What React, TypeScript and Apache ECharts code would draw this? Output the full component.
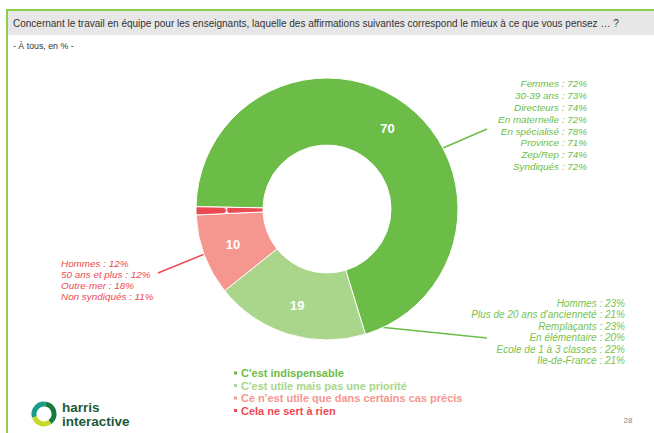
import React, { useEffect, useRef } from "react";
import * as echarts from "echarts";

const categories = [
  "C'est indispensable",
  "C'est utile mais pas une priorité",
  "Ce n'est utile que dans certains cas précis",
  "Cela ne sert à rien",
];
const values = [70, 19, 10, 1];
const colors = ["#6cbd48", "#a9d68b", "#f5978e", "#ec4a53"];

const calloutIndispensable = [
  "Femmes : 72%",
  "30-39 ans : 73%",
  "Directeurs : 74%",
  "En maternelle : 72%",
  "En spécialisé : 78%",
  "Province : 71%",
  "Zep/Rep : 74%",
  "Syndiqués : 72%",
];
const calloutUtile = [
  "Hommes : 23%",
  "Plus de 20 ans d'ancienneté : 21%",
  "Remplaçants : 23%",
  "En élémentaire : 20%",
  "Ecole de 1 à 3 classes : 22%",
  "Ile-de-France : 21%",
];
const calloutCertains = [
  "Hommes : 12%",
  "50 ans et plus : 12%",
  "Outre-mer : 18%",
  "Non syndiqués : 11%",
];

const titleText =
  "Concernant le travail en équipe pour les enseignants, laquelle des affirmations suivantes correspond le mieux à ce que vous pensez … ?";
const subtitleText = "- À tous, en % -";

export default function App() {
  const ref = useRef<HTMLDivElement>(null);
  useEffect(() => {
    if (!ref.current) return;
    const chart = echarts.init(ref.current, null, { renderer: "svg" });
    const font = "'Liberation Sans', Arial, sans-serif";
    chart.setOption({
      animation: false,
      backgroundColor: "#ffffff",
      legend: {
        orient: "vertical",
        left: 232,
        top: 367.5,
        padding: 0,
        itemWidth: 5,
        itemHeight: 5,
        itemGap: 1.5,
        icon: "rect",
        selectedMode: false,
        textStyle: { fontFamily: font, fontSize: 11, fontWeight: "bold", lineHeight: 11, padding: [0, 0, 0, -2] },
        data: categories.map((c, i) => ({
          name: c,
          itemStyle: { color: colors[i] },
          textStyle: { color: colors[i] },
        })),
      },
      series: [
        {
          type: "pie",
          center: [327, 209],
          radius: [64, 131],
          startAngle: 179,
          clockwise: true,
          avoidLabelOverlap: false,
          itemStyle: { borderColor: "#ffffff", borderWidth: 1 },
          label: {
            show: true,
            position: "inside",
            color: "#ffffff",
            fontFamily: font,
            fontWeight: "bold",
            fontSize: 13,
            formatter: "{c}",
          },
          labelLine: { show: false },
          data: categories.map((c, i) => ({
            name: c,
            value: values[i],
            itemStyle: { color: colors[i] },
            label: i === 3 ? { fontSize: 8 } : {},
          })),
        },
      ],
      graphic: [
        { type: "rect", shape: { x: 6, y: 9, width: 648, height: 2 }, style: { fill: "#8ccf4c" } },
        { type: "rect", shape: { x: 6, y: 9, width: 2, height: 424 }, style: { fill: "#8ccf4c" } },
        { type: "rect", shape: { x: 8, y: 11, width: 646, height: 24 }, style: { fill: "#e7e7e7" } },
        {
          type: "text",
          x: 13,
          y: 23,
          style: { text: titleText, font: `10px ${font}`, fill: "#333333", verticalAlign: "middle" },
        },
        {
          type: "text",
          x: 13,
          y: 46,
          style: { text: subtitleText, font: `8.8px ${font}`, fill: "#333333", verticalAlign: "middle" },
        },
        // callout lines
        { type: "line", shape: { x1: 443, y1: 148, x2: 487, y2: 129 }, style: { stroke: "#6cbd48", lineWidth: 1.5 } },
        { type: "line", shape: { x1: 340, y1: 323, x2: 487, y2: 338 }, style: { stroke: "#6cbd48", lineWidth: 1.5 } },
        { type: "line", shape: { x1: 158, y1: 273, x2: 212, y2: 251 }, style: { stroke: "#ec4a53", lineWidth: 1.5 } },
        {
          type: "text",
          x: 587,
          y: 78,
          style: {
            text: calloutIndispensable.join("\n"),
            font: `italic 9.9px ${font}`,
            lineHeight: 11.8,
            fill: "#6cbd48",
            align: "right",
            verticalAlign: "top",
          },
        },
        {
          type: "text",
          x: 625,
          y: 297.5,
          style: {
            text: calloutUtile.join("\n"),
            font: `italic 10px ${font}`,
            lineHeight: 11.5,
            fill: "#77c352",
            align: "right",
            verticalAlign: "top",
          },
        },
        {
          type: "text",
          x: 61,
          y: 257.5,
          style: {
            text: calloutCertains.join("\n"),
            font: `italic 9.9px ${font}`,
            lineHeight: 11.2,
            fill: "#ec4a53",
            align: "left",
            verticalAlign: "top",
          },
        },
        {
          type: "text",
          x: 628,
          y: 420,
          style: { text: "28", font: `8px ${font}`, fill: "#888888", align: "center", verticalAlign: "middle" },
        },
        // logo ring
        { type: "arc", shape: { cx: 44, cy: 414, r: 10, startAngle: Math.PI * 0.9, endAngle: Math.PI * 1.55 }, style: { stroke: "#1c9a8a", lineWidth: 5, fill: "none" } },
        { type: "arc", shape: { cx: 44, cy: 414, r: 10, startAngle: Math.PI * 1.55, endAngle: Math.PI * 2.3 }, style: { stroke: "#177a3f", lineWidth: 5, fill: "none" } },
        { type: "arc", shape: { cx: 44, cy: 414, r: 10, startAngle: Math.PI * 0.3, endAngle: Math.PI * 0.9 }, style: { stroke: "#c9d92a", lineWidth: 5, fill: "none" } },
        {
          type: "text",
          x: 62,
          y: 407,
          style: { text: "harris", font: `600 13.5px ${font}`, fill: "#1d5a3a", verticalAlign: "middle" },
        },
        {
          type: "text",
          x: 62,
          y: 421,
          style: { text: "interactive", font: `600 13.5px ${font}`, fill: "#1d5a3a", verticalAlign: "middle" },
        },
      ],
    });
    return () => chart.dispose();
  }, []);
  return (
    <div
      ref={ref}
      style={{ position: "fixed", left: 0, top: 0, width: 654, height: 433 }}
    />
  );
}
